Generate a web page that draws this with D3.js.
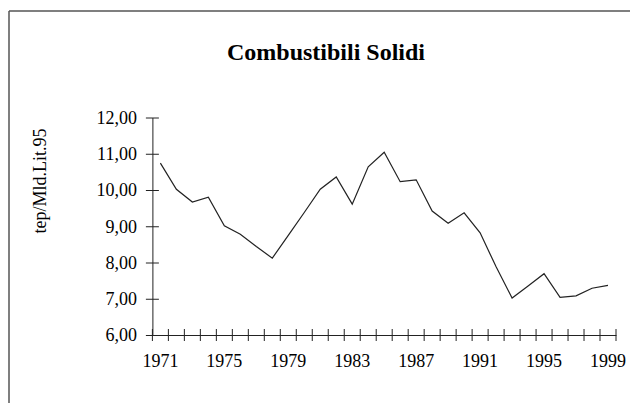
<!DOCTYPE html>
<html><head><meta charset="utf-8">
<script src="https://cdn.jsdelivr.net/npm/d3@7"></script>
<style>
html,body{margin:0;padding:0;background:#fff;}
svg{display:block;}
text{font-family:"Liberation Serif","Times New Roman",serif;fill:#000;}
</style></head>
<body>
<svg id="c" width="630" height="403"></svg>
<script>
const title = "Combustibili Solidi";
const yAxisTitle = "tep/Mld.Lit.95";
const years = [1971,1972,1973,1974,1975,1976,1977,1978,1979,1980,1981,1982,1983,1984,1985,1986,1987,1988,1989,1990,1991,1992,1993,1994,1995,1996,1997,1998,1999];
const values = [10.74,10.02,9.67,9.80,9.01,8.78,8.44,8.12,8.75,9.38,10.02,10.36,9.61,10.64,11.04,10.23,10.28,9.42,9.08,9.37,8.82,7.88,7.02,7.35,7.69,7.04,7.08,7.29,7.37];
const yTicks = [6,7,8,9,10,11,12];
const xLabelYears = [1971,1975,1979,1983,1987,1991,1995,1999];

const svg = d3.select("#c");
const fmt = v => v.toFixed(2).replace(".", ",");

// frame (top and left edges)
svg.append("line").attr("x1",9).attr("x2",630).attr("y1",11).attr("y2",11)
  .attr("stroke","#555").attr("stroke-width",1.5);
svg.append("line").attr("x1",9).attr("x2",9).attr("y1",11).attr("y2",403)
  .attr("stroke","#555").attr("stroke-width",1.5);

const x = d3.scaleBand().domain(years).range([152.4, 616]).padding(0);
const y = d3.scaleLinear().domain([6,12]).range([335, 117.5]);

// title
svg.append("text").attr("x",326).attr("y",60).attr("text-anchor","middle")
  .style("font-size","24px").style("font-weight","bold").text(title);

// y axis title
svg.append("text").attr("transform","translate(46,181) rotate(-90)")
  .attr("text-anchor","middle").style("font-size","18px").text(yAxisTitle);

// y axis
const yAxis = d3.axisLeft(y).tickValues(yTicks).tickFormat(fmt).tickSizeInner(6.5).tickSizeOuter(0).tickPadding(9);
const gy = svg.append("g").attr("transform",`translate(${x.range()[0]},0)`).call(yAxis);
gy.select(".domain").attr("stroke","#222");
gy.selectAll(".tick line").attr("x1",-6.5).attr("x2",6.5).attr("stroke","#222");
gy.selectAll(".tick text").style("font-size","18px").style("font-family","Liberation Serif");

// x axis: labels at category centres, ticks at category boundaries
const xAxis = d3.axisBottom(x).tickValues(xLabelYears).tickSize(0).tickPadding(19);
const gx = svg.append("g").attr("transform",`translate(0,${y(6)})`).call(xAxis);
gx.select(".domain").attr("stroke","#222");
gx.selectAll(".tick text").style("font-size","18px").style("font-family","Liberation Serif");
const bounds = years.map(d => x(d)).concat([x(years[years.length-1]) + x.bandwidth()]);
gx.selectAll("line.bt").data(bounds).enter().append("line").attr("class","bt")
  .attr("x1",d=>d).attr("x2",d=>d).attr("y1",-6).attr("y2",6).attr("stroke","#222");

// line
const line = d3.line().x((d,i)=>x(years[i]) + x.bandwidth()/2).y(d=>y(d));
svg.append("path").datum(values).attr("d",line).attr("fill","none")
  .attr("stroke","#222").attr("stroke-width",1.2);
</script>
</body></html>
